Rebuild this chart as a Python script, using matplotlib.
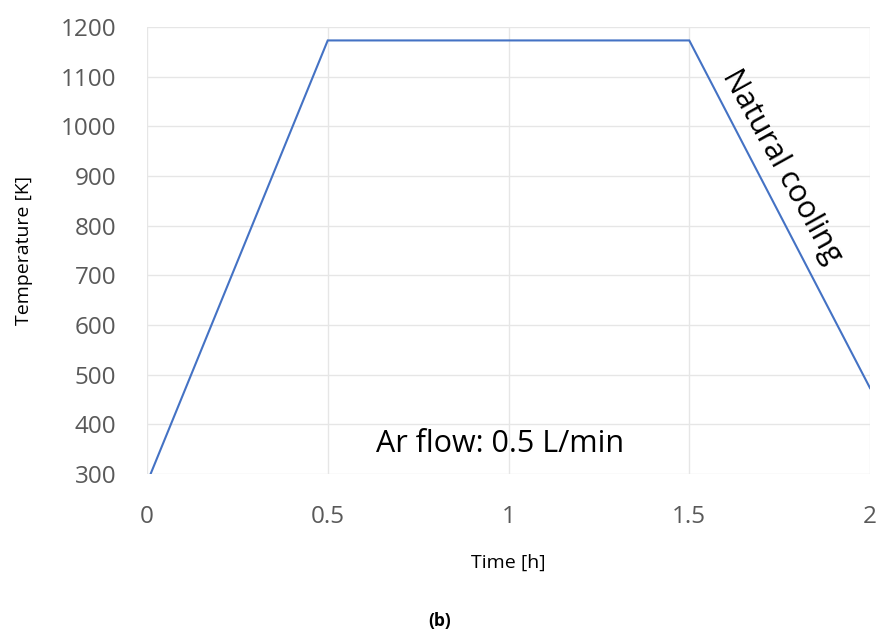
import matplotlib.pyplot as plt

# Heating schedule
time_h = [0.01, 0.5, 1.5, 2.0]
temp_k = [300, 1173, 1173, 473]

x_ticks = [0, 0.5, 1, 1.5, 2]
x_tick_labels = ['0', '0.5', '1', '1.5', '2']
y_ticks = [300, 400, 500, 600, 700, 800, 900, 1000, 1100, 1200]

plt.rcParams['font.family'] = ['Open Sans', 'DejaVu Sans']

fig = plt.figure(figsize=(8.79, 6.33), dpi=100)
ax = fig.add_axes([0.1672, 0.2512, 0.8226, 0.7061])

ax.plot(time_h, temp_k, color='#4472C4', lw=1.5, solid_joinstyle='miter')

ax.set_xlim(0, 2)
ax.set_ylim(300, 1200)
ax.set_xticks(x_ticks)
ax.set_xticklabels(x_tick_labels)
ax.set_yticks(y_ticks)
ax.grid(True, color='#E6E6E6', lw=1.0)
ax.set_axisbelow(True)
for s in ax.spines.values():
    s.set_visible(False)
ax.tick_params(length=0, labelsize=17.5, labelcolor='#595959')
ax.tick_params(axis='y', pad=22)
ax.tick_params(axis='x', pad=22)

ax.set_ylabel('Temperature [K]', fontsize=14, labelpad=20, fontweight='medium')
ax.set_xlabel('Time [h]', fontsize=14, labelpad=18, fontweight='medium')

ax.text(0.977, 361, 'Ar flow: 0.5 L/min', fontsize=22, ha='center', va='center')
ax.text(1.757, 918, 'Natural cooling', fontsize=22, ha='center', va='center',
        rotation=-61, rotation_mode='anchor')

fig.text(0.5, 0.005, '(b)', fontsize=12.5, fontweight='bold', ha='center', va='bottom')

fig.savefig('out.png', dpi=100)
